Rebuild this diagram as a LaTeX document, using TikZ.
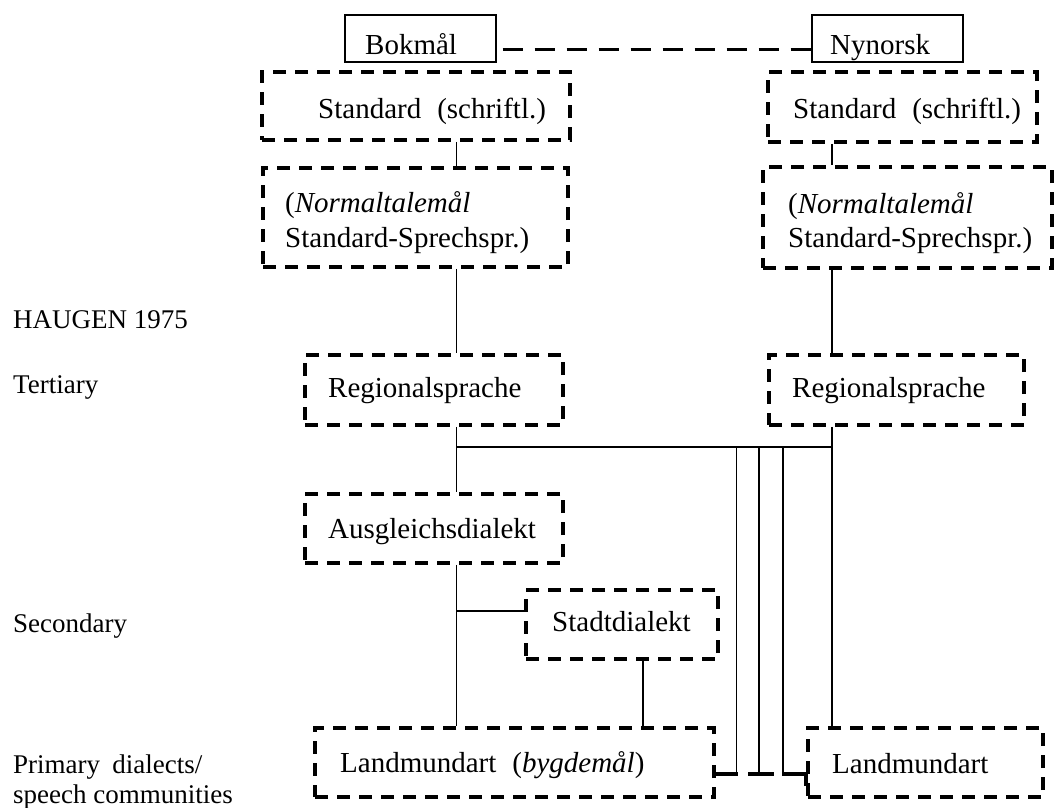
\documentclass[tikz,border=0pt]{standalone}
\usepackage{fontspec}
\setmainfont{Liberation Serif}
\begin{document}
\begin{tikzpicture}[x=1pt,y=-1pt,
  dbox/.style={draw,line width=3.6pt,dash pattern=on 13pt off 9pt,rectangle,inner sep=0pt},
  sbox/.style={draw,line width=1.1pt,rectangle,inner sep=0pt},
  txt/.style={anchor=base west,inner sep=0pt,font=\fontsize{29}{35}\selectfont},
  lab/.style={anchor=base west,inner sep=0pt,font=\fontsize{27}{32}\selectfont},
  conn/.style={line width=1.3pt},
  bar/.style={line width=3.6pt},
  longdash/.style={line width=3pt,dash pattern=on 20pt off 12pt}]
\useasboundingbox (0,0) rectangle (1056,807);

% boxes
\node[sbox,minimum width=151pt,minimum height=47pt] (bok) at (420.5,38.5) {};
\node[sbox,minimum width=151pt,minimum height=47pt] (nyn) at (887.5,38.5) {};
\node[dbox,minimum width=308pt,minimum height=68pt] (stdL) at (416,106) {};
\node[dbox,minimum width=269pt,minimum height=70pt] (stdR) at (902.5,107) {};
\node[dbox,minimum width=305pt,minimum height=99pt] (norL) at (415.5,217.5) {};
\node[dbox,minimum width=289pt,minimum height=101pt] (norR) at (907.5,217.5) {};
\node[dbox,minimum width=258pt,minimum height=70pt] (regL) at (434,390) {};
\node[dbox,minimum width=255pt,minimum height=70pt] (regR) at (896.5,390) {};
\node[dbox,minimum width=258pt,minimum height=69pt] (ausg) at (434,528.5) {};
\node[dbox,minimum width=192pt,minimum height=69pt] (stadt) at (622,624.5) {};
\node[dbox,minimum width=399pt,minimum height=69pt] (landL) at (514.5,762.5) {};
\node[dbox,minimum width=235pt,minimum height=69pt] (landR) at (925.5,762.5) {};

% texts in boxes
\node[txt] (tbok) at (365,54) {Bokmål};
\node[txt] (tnyn) at (830,54) {Nynorsk};
\node[txt] (tstdL) at (318,118) {Standard\hspace{0.3em} (schriftl.)};
\node[txt] (tstdR) at (793,118) {Standard\hspace{0.3em} (schriftl.)};
\node[txt] (tnorL1) at (285,212) {(\textit{Normaltalemål}};
\node[txt] (tnorL2) at (285,247) {Standard-Sprechspr.)};
\node[txt] (tnorR1) at (788,213) {(\textit{Normaltalemål}};
\node[txt] (tnorR2) at (788,247) {Standard-Sprechspr.)};
\node[txt] (tregL) at (328,397) {Regionalsprache};
\node[txt] (tregR) at (792,397) {Regionalsprache};
\node[txt] (tausg) at (328,538) {Ausgleichsdialekt};
\node[txt] (tstadt) at (552,631) {Stadtdialekt};
\node[txt] (tlandL) at (340,772) {Landmundart\hspace{0.3em} (\textit{bygdemål})};
\node[txt] (tlandR) at (832,773) {Landmundart};

% left labels
\node[lab] (haugen) at (13,328) {HAUGEN 1975};
\node[lab] (tert) at (13,393) {Tertiary};
\node[lab] (sec) at (13,632) {Secondary};
\node[lab] (prim1) at (13,773) {Primary\hspace{0.2em} dialects/};
\node[lab] (prim2) at (13,803) {speech communities};

% coordinates
\coordinate (vL) at (456.5,0);
\coordinate (vR) at (832,0);
\coordinate (vS) at (643,0);
\coordinate (c1) at (736.5,0);
\coordinate (c2) at (759,0);
\coordinate (c3) at (783,0);
\coordinate (hj) at (0,447);
\coordinate (sj) at (0,611);
\coordinate (bj) at (0,774);
\coordinate (tl) at (0,49);

% top dashed link
\draw[longdash] ([xshift=6pt]tl -| bok.east) -- (tl -| nyn.west);

% connectors
\draw[conn] (stdL.south -| vL) -- (norL.north -| vL);
\draw[conn] (norL.south -| vL) -- (regL.north -| vL);
\draw[conn] (regL.south -| vL) -- (ausg.north -| vL);
\draw[conn] (ausg.south -| vL) -- (landL.north -| vL);
\draw[conn] (stdR.south -| vR) -- (norR.north -| vR);
\draw[conn] (norR.south -| vR) -- (regR.north -| vR);
\draw[conn] (regR.south -| vR) -- (landR.north -| vR);
\draw[conn] (hj -| vL) -- (hj -| vR);
\draw[conn] (sj -| vL) -- (sj -| stadt.west);
\draw[conn] (stadt.south -| vS) -- (landL.north -| vS);
\draw[conn] (hj -| c1) -- (bj -| c1);
\draw[conn] (hj -| c2) -- (bj -| c2);
\draw[conn] (hj -| c3) -- (bj -| c3);
\draw[bar] (bj -| landL.east) -- ([xshift=1.5pt]bj -| c1);
\draw[bar] ([xshift=-11pt]bj -| c2) -- ([xshift=15pt]bj -| c2);
\draw[bar] ([xshift=-0.7pt]bj -| c3) -| ([yshift=-12pt]bj -| landR.west);
\end{tikzpicture}
\end{document}
